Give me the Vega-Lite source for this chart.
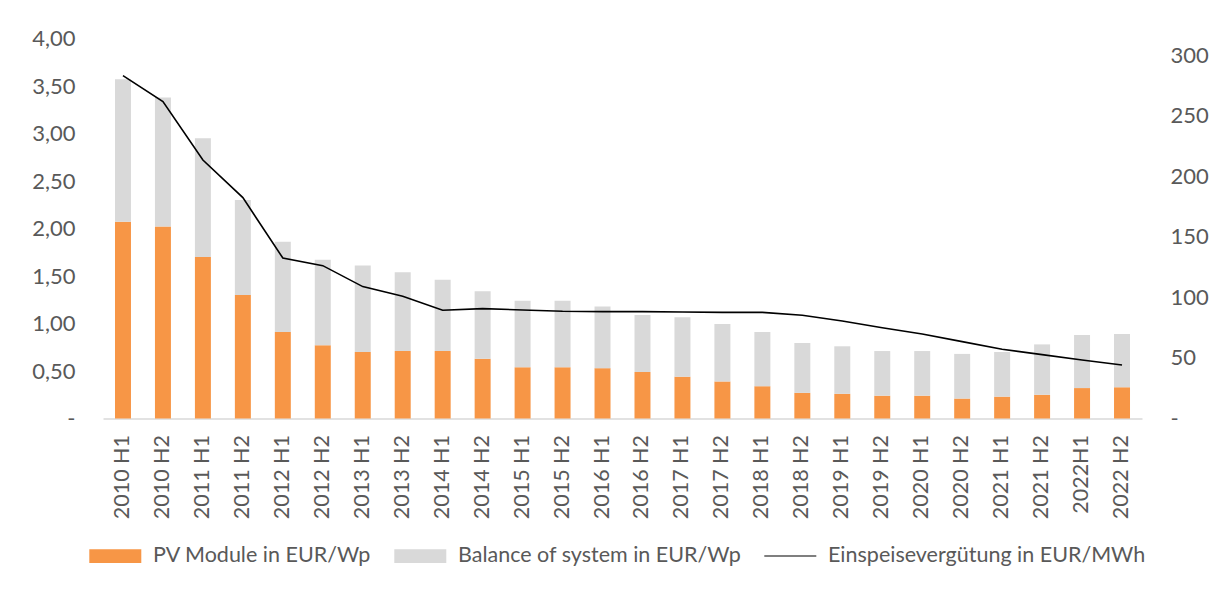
{
  "$schema": "https://vega.github.io/schema/vega-lite/v6.json",
  "width": 1039,
  "height": 380,
  "autosize": {"type": "none"},
  "padding": {"left": 103, "top": 38.5, "right": 76, "bottom": 170.5},
  "background": "white",
  "config": {
    "view": {"stroke": null},
    "font": "Lato",
    "axis": {"labelFont": "Lato", "labelColor": "#595959", "labelFontSize": 22, "ticks": false, "grid": false, "title": null}
  },
  "datasets": {
    "bars": [
      {"period": "2010 H1", "series": "PV Module in EUR/Wp", "value": 2.07, "o": 1},
      {"period": "2010 H1", "series": "Balance of system in EUR/Wp", "value": 1.50, "o": 2},
      {"period": "2010 H2", "series": "PV Module in EUR/Wp", "value": 2.02, "o": 1},
      {"period": "2010 H2", "series": "Balance of system in EUR/Wp", "value": 1.36, "o": 2},
      {"period": "2011 H1", "series": "PV Module in EUR/Wp", "value": 1.70, "o": 1},
      {"period": "2011 H1", "series": "Balance of system in EUR/Wp", "value": 1.25, "o": 2},
      {"period": "2011 H2", "series": "PV Module in EUR/Wp", "value": 1.30, "o": 1},
      {"period": "2011 H2", "series": "Balance of system in EUR/Wp", "value": 1.00, "o": 2},
      {"period": "2012 H1", "series": "PV Module in EUR/Wp", "value": 0.91, "o": 1},
      {"period": "2012 H1", "series": "Balance of system in EUR/Wp", "value": 0.95, "o": 2},
      {"period": "2012 H2", "series": "PV Module in EUR/Wp", "value": 0.77, "o": 1},
      {"period": "2012 H2", "series": "Balance of system in EUR/Wp", "value": 0.90, "o": 2},
      {"period": "2013 H1", "series": "PV Module in EUR/Wp", "value": 0.70, "o": 1},
      {"period": "2013 H1", "series": "Balance of system in EUR/Wp", "value": 0.91, "o": 2},
      {"period": "2013 H2", "series": "PV Module in EUR/Wp", "value": 0.71, "o": 1},
      {"period": "2013 H2", "series": "Balance of system in EUR/Wp", "value": 0.83, "o": 2},
      {"period": "2014 H1", "series": "PV Module in EUR/Wp", "value": 0.71, "o": 1},
      {"period": "2014 H1", "series": "Balance of system in EUR/Wp", "value": 0.75, "o": 2},
      {"period": "2014 H2", "series": "PV Module in EUR/Wp", "value": 0.63, "o": 1},
      {"period": "2014 H2", "series": "Balance of system in EUR/Wp", "value": 0.71, "o": 2},
      {"period": "2015 H1", "series": "PV Module in EUR/Wp", "value": 0.54, "o": 1},
      {"period": "2015 H1", "series": "Balance of system in EUR/Wp", "value": 0.70, "o": 2},
      {"period": "2015 H2", "series": "PV Module in EUR/Wp", "value": 0.54, "o": 1},
      {"period": "2015 H2", "series": "Balance of system in EUR/Wp", "value": 0.70, "o": 2},
      {"period": "2016 H1", "series": "PV Module in EUR/Wp", "value": 0.53, "o": 1},
      {"period": "2016 H1", "series": "Balance of system in EUR/Wp", "value": 0.65, "o": 2},
      {"period": "2016 H2", "series": "PV Module in EUR/Wp", "value": 0.49, "o": 1},
      {"period": "2016 H2", "series": "Balance of system in EUR/Wp", "value": 0.60, "o": 2},
      {"period": "2017 H1", "series": "PV Module in EUR/Wp", "value": 0.44, "o": 1},
      {"period": "2017 H1", "series": "Balance of system in EUR/Wp", "value": 0.625, "o": 2},
      {"period": "2017 H2", "series": "PV Module in EUR/Wp", "value": 0.39, "o": 1},
      {"period": "2017 H2", "series": "Balance of system in EUR/Wp", "value": 0.605, "o": 2},
      {"period": "2018 H1", "series": "PV Module in EUR/Wp", "value": 0.34, "o": 1},
      {"period": "2018 H1", "series": "Balance of system in EUR/Wp", "value": 0.57, "o": 2},
      {"period": "2018 H2", "series": "PV Module in EUR/Wp", "value": 0.27, "o": 1},
      {"period": "2018 H2", "series": "Balance of system in EUR/Wp", "value": 0.525, "o": 2},
      {"period": "2019 H1", "series": "PV Module in EUR/Wp", "value": 0.26, "o": 1},
      {"period": "2019 H1", "series": "Balance of system in EUR/Wp", "value": 0.50, "o": 2},
      {"period": "2019 H2", "series": "PV Module in EUR/Wp", "value": 0.24, "o": 1},
      {"period": "2019 H2", "series": "Balance of system in EUR/Wp", "value": 0.47, "o": 2},
      {"period": "2020 H1", "series": "PV Module in EUR/Wp", "value": 0.24, "o": 1},
      {"period": "2020 H1", "series": "Balance of system in EUR/Wp", "value": 0.47, "o": 2},
      {"period": "2020 H2", "series": "PV Module in EUR/Wp", "value": 0.21, "o": 1},
      {"period": "2020 H2", "series": "Balance of system in EUR/Wp", "value": 0.47, "o": 2},
      {"period": "2021 H1", "series": "PV Module in EUR/Wp", "value": 0.23, "o": 1},
      {"period": "2021 H1", "series": "Balance of system in EUR/Wp", "value": 0.47, "o": 2},
      {"period": "2021 H2", "series": "PV Module in EUR/Wp", "value": 0.25, "o": 1},
      {"period": "2021 H2", "series": "Balance of system in EUR/Wp", "value": 0.53, "o": 2},
      {"period": "2022H1", "series": "PV Module in EUR/Wp", "value": 0.32, "o": 1},
      {"period": "2022H1", "series": "Balance of system in EUR/Wp", "value": 0.56, "o": 2},
      {"period": "2022 H2", "series": "PV Module in EUR/Wp", "value": 0.33, "o": 1},
      {"period": "2022 H2", "series": "Balance of system in EUR/Wp", "value": 0.56, "o": 2}
    ],
    "feed": [
      {"period": "2010 H1", "feed": 283.3},
      {"period": "2010 H2", "feed": 261.8},
      {"period": "2011 H1", "feed": 213.6},
      {"period": "2011 H2", "feed": 182.5},
      {"period": "2012 H1", "feed": 132.6},
      {"period": "2012 H2", "feed": 126.3},
      {"period": "2013 H1", "feed": 109.0},
      {"period": "2013 H2", "feed": 101.0},
      {"period": "2014 H1", "feed": 89.4},
      {"period": "2014 H2", "feed": 90.8},
      {"period": "2015 H1", "feed": 89.7},
      {"period": "2015 H2", "feed": 88.6},
      {"period": "2016 H1", "feed": 88.3},
      {"period": "2016 H2", "feed": 88.3},
      {"period": "2017 H1", "feed": 88.0},
      {"period": "2017 H2", "feed": 87.7},
      {"period": "2018 H1", "feed": 87.7},
      {"period": "2018 H2", "feed": 85.3},
      {"period": "2019 H1", "feed": 80.6},
      {"period": "2019 H2", "feed": 75.0},
      {"period": "2020 H1", "feed": 69.8},
      {"period": "2020 H2", "feed": 63.5},
      {"period": "2021 H1", "feed": 57.2},
      {"period": "2021 H2", "feed": 52.8},
      {"period": "2022H1", "feed": 48.3},
      {"period": "2022 H2", "feed": 44.2}
    ]
  },
  "layer": [
    {
      "data": {"name": "bars"},
      "mark": {"type": "bar", "width": {"band": 0.4}},
      "encoding": {
        "x": {
          "field": "period", "type": "nominal", "sort": null,
          "scale": {"paddingInner": 0, "paddingOuter": 0},
          "axis": {"labelAngle": -90, "labelPadding": 16, "domain": true, "domainColor": "#d9d9d9", "domainWidth": 1.5, "labelFontSize": 21.5}
        },
        "y": {
          "field": "value", "type": "quantitative", "stack": "zero",
          "scale": {"domain": [0, 4], "nice": false},
          "axis": {"orient": "left", "domain": false, "values": [0, 0.5, 1, 1.5, 2, 2.5, 3, 3.5, 4], "labelPadding": 28, "labelFontSize": 22,
                   "labelExpr": "datum.value == 0 ? '-\u2003' : replace(format(datum.value, '.2f'), '.', ',')"}
        },
        "color": {
          "field": "series", "type": "nominal",
          "scale": {"domain": ["PV Module in EUR/Wp", "Balance of system in EUR/Wp", "Einspeisevergütung in EUR/MWh"], "range": ["#f79646", "#d9d9d9", "#000000"]},
          "legend": {
            "title": null, "orient": "none", "direction": "horizontal",
            "legendX": -13.7, "legendY": 491.3,
            "symbolSize": 2704,
            "symbolType": "M-1,-0.263L1,-0.263L1,0.263L-1,0.263Z",
            "symbolStrokeWidth": 0,
            "labelFont": "Lato", "labelFontSize": 21.5, "labelColor": "#595959",
            "labelOffset": 11.7, "columnPadding": 23, "labelLimit": 500,
            "encode": {
              "symbols": {
                "update": {
                  "shape": {"signal": "datum.value === 'Einspeisevergütung in EUR/MWh' ? 'M-1,-0.018L1,-0.018L1,0.018L-1,0.018Z' : 'M-1,-0.263L1,-0.263L1,0.263L-1,0.263Z'"},
                  "fill": {"signal": "scale('color', datum.value)"},
                  "stroke": {"value": "transparent"},
                  "opacity": {"value": 1},
                  "fillOpacity": {"value": 1}
                }
              }
            }
          }
        },
        "order": {"field": "o", "type": "quantitative"}
      }
    },
    {
      "data": {"name": "feed"},
      "mark": {"type": "line", "color": "#000000", "strokeWidth": 1.6},
      "encoding": {
        "x": {"field": "period", "type": "nominal", "sort": null},
        "y": {
          "field": "feed", "type": "quantitative",
          "scale": {"domain": [0, 314], "nice": false},
          "axis": {"orient": "right", "domain": false, "values": [0, 50, 100, 150, 200, 250, 300], "labelPadding": 28, "labelFontSize": 22,
                   "labelExpr": "datum.value == 0 ? '-' : format(datum.value, 'd')"}
        }
      }
    }
  ],
  "resolve": {"scale": {"y": "independent"}}
}
